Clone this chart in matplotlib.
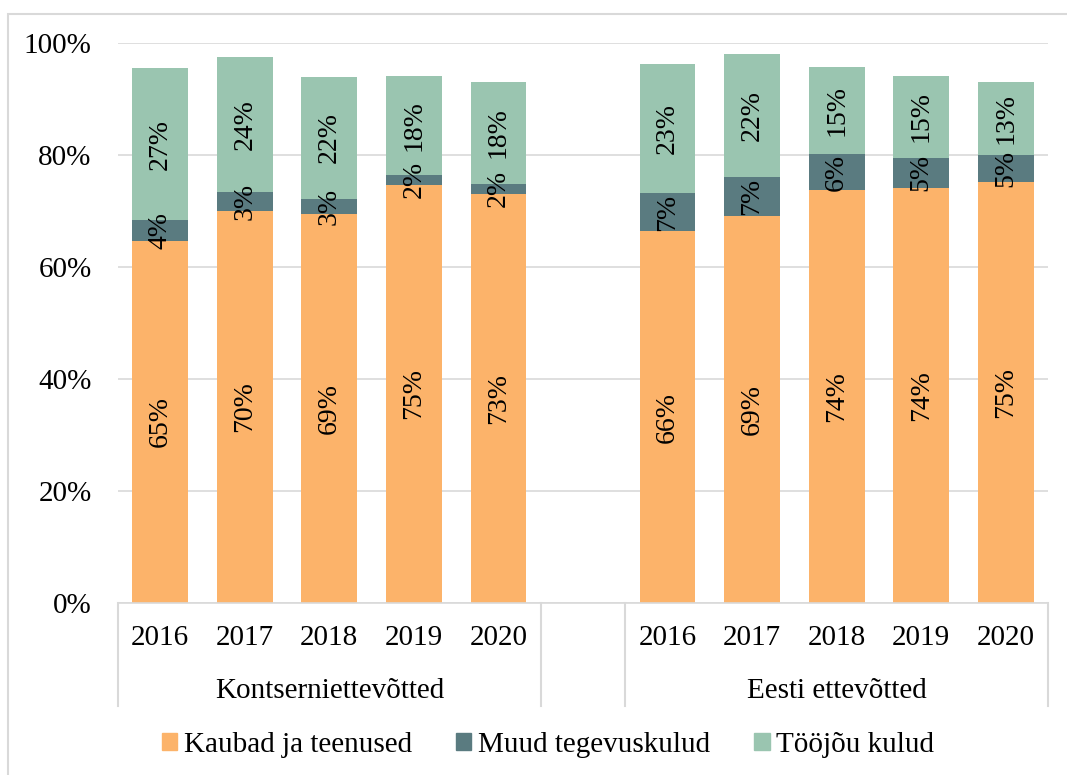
import matplotlib
matplotlib.use('Agg')
import matplotlib.pyplot as plt
import matplotlib.patches as mpatches
import numpy as np

# data (shares, %)
years = ['2016', '2017', '2018', '2019', '2020']
groups = ['Kontserniettevõtted', 'Eesti ettevõtted']
series_names = ['Kaubad ja teenused', 'Muud tegevuskulud', 'Tööjõu kulud']

kaubad = [64.6, 70.0, 69.5, 74.6, 73.0,   66.3, 69.1, 73.7, 74.1, 75.1]
muud = [3.7, 3.3, 2.6, 1.8, 1.8,          6.9, 6.9, 6.4, 5.4, 4.8]
toojou = [27.2, 24.1, 21.8, 17.7, 18.2,   23.0, 22.0, 15.5, 14.6, 13.1]
labels_kaubad = ['65%', '70%', '69%', '75%', '73%', '66%', '69%', '74%', '74%', '75%']
labels_muud = ['4%', '3%', '3%', '2%', '2%', '7%', '7%', '6%', '5%', '5%']
labels_toojou = ['27%', '24%', '22%', '18%', '18%', '23%', '22%', '15%', '15%', '13%']

colors = ['#FCB36A', '#5A7B80', '#9AC5B0']
grid_col = '#D9D9D9'

plt.rcParams['font.family'] = ['Liberation Serif', 'DejaVu Serif']

fig = plt.figure(figsize=(10.67, 7.75), dpi=100)
ax = fig.add_axes([118 / 1067, 1 - 602.7 / 775, (1048 - 118) / 1067, (602.7 - 42.7) / 775])

# x positions: 5 bars, empty slot, 5 bars
x = np.array([0, 1, 2, 3, 4, 6, 7, 8, 9, 10])
w = 0.66

bottom = np.zeros(len(x))
for vals, labs, col, name in zip([kaubad, muud, toojou],
                                 [labels_kaubad, labels_muud, labels_toojou],
                                 colors, series_names):
    vals = np.array(vals) / 100
    ax.bar(x, vals, w, bottom=bottom, color=col, label=name, zorder=2)
    for xi, b, v, lab in zip(x, bottom, vals, labs):
        ax.text(xi, b + v / 2, lab, rotation=90, ha='center', va='center',
                fontsize=20, zorder=3)
    bottom = bottom + vals

ax.set_xlim(-0.5, 10.5)
ax.set_ylim(0, 1)
ticks = np.arange(0, 1.01, 0.2)
ax.set_yticks(ticks)
ax.set_yticklabels([f'{int(round(t * 100))}%' for t in ticks])
ax.yaxis.grid(True, color=grid_col, linewidth=1.2, zorder=0)
ax.set_axisbelow(True)
for s in ['top', 'right', 'left']:
    ax.spines[s].set_visible(False)
ax.spines['bottom'].set_color(grid_col)
ax.spines['bottom'].set_linewidth(1.2)
ax.tick_params(axis='y', length=0, pad=19, labelsize=21)
ax.tick_params(axis='x', length=0, pad=16, labelsize=21)
ax.set_xticks(x)
ax.set_xticklabels(years + years)

# group labels and separators under the axis
trans = ax.get_xaxis_transform()
ax.text(2, -0.157, groups[0], ha='center', va='center', fontsize=21, transform=trans)
ax.text(8, -0.157, groups[1], ha='center', va='center', fontsize=21, transform=trans)
for sx in [-0.5, 4.5, 5.5, 10.5]:
    ax.plot([sx, sx], [0, -0.185], color=grid_col, linewidth=1.5,
            transform=trans, clip_on=False)

handles = [mpatches.Patch(color=c) for c in colors]
fig.legend(handles, series_names, loc='center', ncol=3,
           bbox_to_anchor=(548 / 1067, 1 - 745 / 775), frameon=False,
           fontsize=21, handlelength=0.52, handleheight=0.52,
           handletextpad=0.23, columnspacing=1.52, borderpad=0)

# outer chart border (cut off at right/bottom in the reference)
fig.patches.append(mpatches.Rectangle((8 / 1067, -0.5), 2, 1.5 - 14 / 775,
                                      transform=fig.transFigure, fill=False,
                                      edgecolor=grid_col, linewidth=1.5))

fig.savefig('out.png', dpi=100, facecolor='white')
